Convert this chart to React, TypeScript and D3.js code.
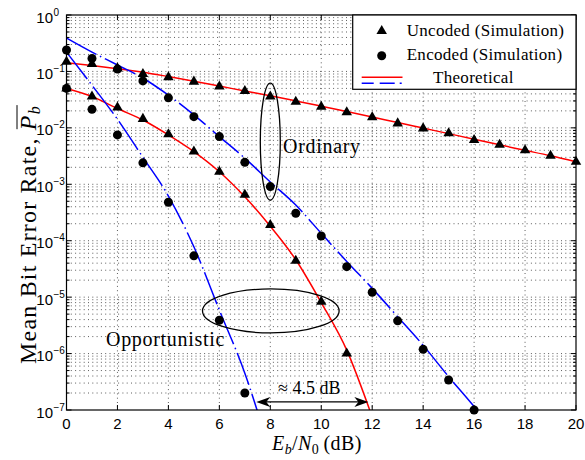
import React, { useLayoutEffect, useRef, useState } from "react";
import * as d3 from "d3";

// ---- data ----
const xTicks = [0, 2, 4, 6, 8, 10, 12, 14, 16, 18, 20];
const yTickExps = [0, -1, -2, -3, -4, -5, -6, -7];

// Ordinary, uncoded
const ordUncSimX = [0, 1, 2, 3, 4, 5, 6, 7, 8, 9, 10, 11, 12, 13, 14, 15, 16, 17, 18, 19, 20];
const ordUncSim = [0.148, 0.135, 0.113, 0.09, 0.079, 0.066, 0.054, 0.045, 0.036, 0.029, 0.0237, 0.0189, 0.0154, 0.012, 0.0098, 0.008, 0.0061, 0.005, 0.004, 0.0032, 0.0025];
const ordUncThX = [0, 1, 2, 3, 4, 5, 6, 7, 8, 9, 10, 11, 12, 13, 14, 15, 16, 17, 18, 19, 20];
const ordUncTh = [0.142, 0.127, 0.112, 0.097, 0.081, 0.067, 0.055, 0.045, 0.037, 0.03, 0.0242, 0.0195, 0.0156, 0.0124, 0.0099, 0.0079, 0.0063, 0.005, 0.004, 0.0032, 0.0025];

// Opportunistic, uncoded
const oppUncSimX = [0, 1, 2, 3, 4, 5, 6, 7, 8, 9, 10, 11];
const oppUncSim = [0.05, 0.036, 0.023, 0.0144, 0.0077, 0.0038, 0.00167, 6.5e-4, 1.9e-4, 4.4e-5, 8.3e-6, 1.0e-6];
const oppUncThX = [0, 1, 2, 3, 4, 5, 6, 7, 8, 9, 10, 11, 12];
const oppUncTh = [0.05, 0.036, 0.022, 0.0138, 0.0075, 0.0038, 0.00167, 6.0e-4, 1.8e-4, 4.6e-5, 8.0e-6, 1.15e-6, 7.5e-8];

// Ordinary, encoded
const ordEncSimX = [0, 1, 2, 3, 4, 5, 6, 7, 8, 9, 10, 11, 12, 13, 14, 15, 16];
const ordEncSim = [0.24, 0.17, 0.11, 0.068, 0.034, 0.0158, 0.007, 0.00245, 9.1e-4, 3.06e-4, 1.21e-4, 3.47e-5, 1.22e-5, 3.8e-6, 1.19e-6, 3.4e-7, 1.0e-7];
const ordEncThX = [0, 1, 2, 3, 4, 5, 6, 7, 8, 9, 10, 11, 12, 13, 14, 15, 16, 17];
const ordEncTh = [0.39, 0.22, 0.13, 0.076, 0.038, 0.017, 0.007, 0.0029, 0.0011, 4.3e-4, 1.35e-4, 4.3e-5, 1.43e-5, 4.5e-6, 1.4e-6, 3.9e-7, 1.15e-7, 3.0e-8];

// Opportunistic, encoded
const oppEncSimX = [0, 1, 2, 3, 4, 5, 6, 7];
const oppEncSim = [0.05, 0.0213, 0.0075, 0.0024, 4.8e-4, 5.4e-5, 3.9e-6, 2.0e-7];
const oppEncThX = [0, 1, 2, 3, 4, 5, 6, 7, 8];
const oppEncTh = [0.22, 0.057, 0.0142, 0.003, 6.2e-4, 7.8e-5, 5.9e-6, 4.5e-7, 1.7e-8];

const legendLabels = ["Uncoded (Simulation)", "Encoded (Simulation)", "Theoretical"];

// annotation anchors (data units)
const gapFrom = 7.45;
const gapTo = 11.85;
const gapLevel = 1.39e-7;
const gapText = "\u2248 4.5 dB";
const ordEllipse = { x: 8, y: 5.7e-3 };
const oppEllipse = { x: 8.02, y: 5.7e-6 };

const W = 585;
const H = 460;
const L = 66.5, R = 576, T = 15, B = 410;

const SERIF = "'Liberation Serif', 'Times New Roman', serif";
const SANS = "'Liberation Sans', Arial, sans-serif";
const RED = "#ff0000";
const BLUE = "#0000ff";
const BLUE_DASH = "34 4 1.5 4";

const x = d3.scaleLinear().domain([0, 20]).range([L, R]);
const y = d3.scaleLog().domain([1e-7, 1]).range([B, T]);

const zip = (xs: number[], ys: number[]) => xs.map((v, i) => [v, ys[i]] as [number, number]);
const lineGen = d3
  .line<[number, number]>()
  .x((d) => x(d[0]))
  .y((d) => y(d[1]))
  .curve(d3.curveMonotoneX);

const triPath = (s: number) => {
  const h = (s * Math.sqrt(3)) / 2;
  return `M0,${(-2 * h) / 3}L${s / 2},${h / 3}L${-s / 2},${h / 3}Z`;
};
const TRI = triPath(10.5);
const CR = 4.5;

const minorVals: number[] = [];
for (let e = -7; e <= -1; e++) for (let m = 2; m <= 9; m++) minorVals.push(m * Math.pow(10, e));
const majorVals = yTickExps.map((e) => Math.pow(10, e));

export default function App() {
  const ylabRef = useRef<SVGTextElement>(null);
  const [ov, setOv] = useState<{ x1: number; x2: number } | null>(null);

  useLayoutEffect(() => {
    const t = ylabRef.current;
    if (!t) return;
    try {
      const n = t.getNumberOfChars();
      const s = t.getStartPositionOfChar(n - 2);
      const e = t.getEndPositionOfChar(n - 1);
      setOv({ x1: s.x + 1, x2: e.x });
    } catch (err) {
      /* ignore */
    }
  }, []);

  const gridStyle = { stroke: "#333", strokeWidth: 0.8, strokeDasharray: "1 3.3", fill: "none" } as const;

  const mainSeries = [
    { pts: zip(ordUncThX, ordUncTh), color: RED, dash: undefined },
    { pts: zip(oppUncThX, oppUncTh), color: RED, dash: undefined },
    { pts: zip(ordEncThX, ordEncTh), color: BLUE, dash: BLUE_DASH },
    { pts: zip(oppEncThX, oppEncTh), color: BLUE, dash: BLUE_DASH },
  ];

  const triangles = [...zip(ordUncSimX, ordUncSim), ...zip(oppUncSimX, oppUncSim)];
  const circles = [...zip(ordEncSimX, ordEncSim), ...zip(oppEncSimX, oppEncSim)];

  const lgX0 = 352.7, lgY0 = T, lgX1 = R, lgY1 = 89.3;

  const ax = (v: number) => x(v);
  const gy = y(gapLevel);
  const ah = (tipX: number, dir: number) =>
    `M${tipX},${gy}L${tipX + dir * 14},${gy - 5}L${tipX + dir * 10},${gy}L${tipX + dir * 14},${gy + 5}Z`;

  return (
    <svg width={W} height={H} style={{ position: "absolute", left: 0, top: 0, background: "#fff" }}>
      <defs>
        <clipPath id="plotclip">
          <rect x={L} y={T} width={R - L} height={B - T} />
        </clipPath>
      </defs>
      <rect x={0} y={0} width={W} height={H} fill="#fff" />
      <rect x={L} y={T} width={R - L} height={B - T} fill="#fff" />

      {/* grid */}
      <g>
        {[...minorVals, ...majorVals.slice(1, -1)].map((v, i) => (
          <line key={"gh" + i} x1={L} x2={R} y1={y(v)} y2={y(v)} style={gridStyle} />
        ))}
        {xTicks.slice(1, -1).map((v) => (
          <line key={"gv" + v} x1={x(v)} x2={x(v)} y1={T} y2={B} style={gridStyle} />
        ))}
      </g>

      {/* theory lines */}
      <g clipPath="url(#plotclip)">
        {mainSeries.map((s, i) => (
          <path
            key={"l" + i}
            d={lineGen(s.pts) || ""}
            fill="none"
            stroke={s.color}
            strokeWidth={1.5}
            strokeDasharray={s.dash}
          />
        ))}
      </g>

      {/* markers */}
      <g>
        {triangles.map((d, i) => (
          <path key={"t" + i} d={TRI} transform={`translate(${x(d[0])},${y(d[1])})`} fill="#000" />
        ))}
        {circles.map((d, i) => (
          <circle key={"c" + i} cx={x(d[0])} cy={y(d[1])} r={CR} fill="#000" />
        ))}
      </g>

      {/* annotations */}
      <g fill="none" stroke="#000" strokeWidth={1.3}>
        <ellipse cx={x(ordEllipse.x)} cy={y(ordEllipse.y)} rx={10} ry={58.5} />
        <ellipse cx={x(oppEllipse.x)} cy={y(oppEllipse.y)} rx={68.3} ry={22} />
      </g>
      <text x={283} y={153} fontFamily={SERIF} fontSize={20} letterSpacing={0.7} fill="#000">
        Ordinary
      </text>
      <text x={106} y={346} fontFamily={SERIF} fontSize={20} letterSpacing={0.7} fill="#000">
        Opportunistic
      </text>
      <g>
        <line x1={ax(gapFrom) + 8} x2={ax(gapTo) - 8} y1={gy} y2={gy} stroke="#000" strokeWidth={1.3} />
        <path d={ah(ax(gapFrom), 1)} fill="#000" />
        <path d={ah(ax(gapTo), -1)} fill="#000" />
        <text x={278} y={gy - 8} textAnchor="start" fontFamily={SERIF} fontSize={18} fill="#000">
          {gapText}
        </text>
      </g>

      {/* axes box */}
      <rect x={L} y={T} width={R - L} height={B - T} fill="none" stroke="#000" strokeWidth={1.2} />

      {/* ticks */}
      <g stroke="#000" strokeWidth={1}>
        {xTicks.map((v) => (
          <g key={"xt" + v}>
            <line x1={x(v)} x2={x(v)} y1={B} y2={B - 5} />
            <line x1={x(v)} x2={x(v)} y1={T} y2={T + 5} />
          </g>
        ))}
        {majorVals.map((v, i) => (
          <g key={"yt" + i}>
            <line x1={L} x2={L + 5} y1={y(v)} y2={y(v)} />
            <line x1={R} x2={R - 5} y1={y(v)} y2={y(v)} />
          </g>
        ))}
        {minorVals.map((v, i) => (
          <g key={"ym" + i}>
            <line x1={L} x2={L + 3} y1={y(v)} y2={y(v)} />
            <line x1={R} x2={R - 3} y1={y(v)} y2={y(v)} />
          </g>
        ))}
      </g>

      {/* tick labels */}
      <g fontFamily={SANS} fill="#000">
        {xTicks.map((v) => (
          <text key={"xl" + v} x={x(v)} y={429} textAnchor="middle" fontSize={15}>
            {v}
          </text>
        ))}
        {yTickExps.map((e) => (
          <g key={"yl" + e}>
            <text x={53} y={y(Math.pow(10, e)) + 7.5} textAnchor="end" fontSize={15}>
              10
            </text>
            <text x={53.5} y={y(Math.pow(10, e)) + 0.5} textAnchor="start" fontSize={10}>
              {e === 0 ? "0" : "\u2212" + Math.abs(e)}
            </text>
          </g>
        ))}
      </g>

      {/* axis labels */}
      <text x={272} y={450} fontFamily={SERIF} fontSize={20} letterSpacing={0.4} fill="#000">
        <tspan fontStyle="italic">E</tspan>
        <tspan fontStyle="italic" fontSize={14} dy={4}>b</tspan>
        <tspan dy={-4}>/</tspan>
        <tspan fontStyle="italic">N</tspan>
        <tspan fontSize={14} dy={4}>0</tspan>
        <tspan dy={-4}>{"\u2009(dB)"}</tspan>
      </text>
      <g transform="translate(36,364) rotate(-90)">
        <text ref={ylabRef} x={0} y={0} fontFamily={SERIF} fontSize={24} letterSpacing={1.2} fill="#000">
          Mean Bit Error Rate,{" "}
          <tspan fontStyle="italic">P</tspan>
          <tspan fontStyle="italic" fontSize={16} dy={4}>b</tspan>
        </text>
        {ov && <line x1={ov.x1} x2={ov.x2} y1={-19} y2={-19} stroke="#000" strokeWidth={1} />}
      </g>

      {/* legend */}
      <g>
        <rect x={lgX0} y={lgY0} width={lgX1 - lgX0} height={lgY1 - lgY0} fill="#fff" stroke="#000" strokeWidth={1.2} />
        <path d={TRI} transform={`translate(381.7,31)`} fill="#000" />
        <circle cx={381.7} cy={55.7} r={CR} fill="#000" />
        <line x1={361.7} x2={402.5} y1={77.3} y2={77.3} stroke={RED} strokeWidth={1.5} />
        <line x1={361.7} x2={402.5} y1={83.3} y2={83.3} stroke={BLUE} strokeWidth={1.5} strokeDasharray="12 6 15 5 2 5" />
        <text x={406.7} y={35.5} fontFamily={SERIF} fontSize={17} letterSpacing={0.3} fill="#000">
          {legendLabels[0]}
        </text>
        <text x={406.7} y={59.5} fontFamily={SERIF} fontSize={17} letterSpacing={0.3} fill="#000">
          {legendLabels[1]}
        </text>
        <text x={433} y={83} fontFamily={SERIF} fontSize={17} letterSpacing={0.3} fill="#000">
          {legendLabels[2]}
        </text>
      </g>
    </svg>
  );
}
